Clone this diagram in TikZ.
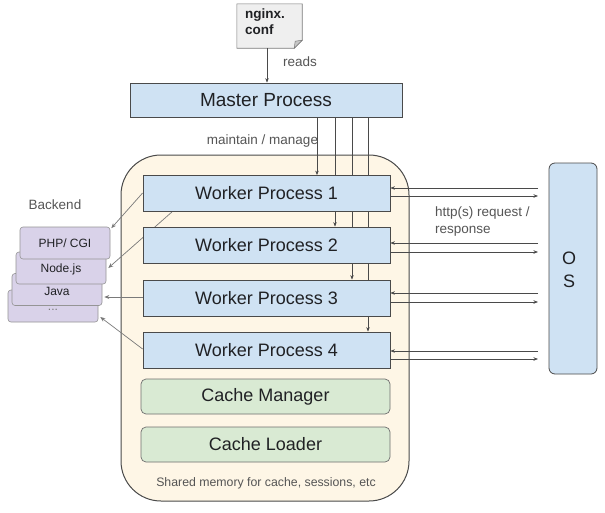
\documentclass[tikz,border=0pt]{standalone}
\usepackage{fontspec}
\setmainfont{Liberation Sans}
\usetikzlibrary{arrows.meta,calc}
\pgfdeclarelayer{bgfill}
\pgfdeclarelayer{back}
\pgfdeclarelayer{mid}
\pgfsetlayers{bgfill,back,mid,main}
\definecolor{wblue}{HTML}{CFE2F3}
\definecolor{cgreen}{HTML}{D9EAD3}
\definecolor{cream}{HTML}{FEF6E6}
\definecolor{lav}{HTML}{D9D2E9}
\definecolor{edge}{HTML}{4A4A4A}
\definecolor{lgray}{HTML}{7A7A7A}
\definecolor{txt}{HTML}{202124}
\definecolor{ltxt}{HTML}{555555}
\definecolor{notefill}{HTML}{EFEFEF}
\tikzset{
  proc/.style={draw=edge, fill=wblue, line width=0.8pt, minimum width=247pt, minimum height=36pt, inner sep=0pt, font=\fontsize{18}{20}\selectfont, text=txt},
  cachebox/.style={draw=edge!80, fill=cgreen, line width=0.7pt, rounded corners=5pt, minimum width=249pt, minimum height=35pt, inner sep=0pt, font=\fontsize{18}{20}\selectfont, text=txt},
  card/.style={draw=lgray!80, fill=lav, line width=0.6pt, rounded corners=3pt, minimum width=90pt, minimum height=32pt, inner sep=0pt},
  cardtext/.style={font=\fontsize{12}{14}\selectfont, text=txt, inner sep=0pt},
  lbl/.style={text=ltxt, font=\fontsize{13.5}{17}\selectfont, inner sep=0pt},
  ctl/.style={draw=edge, line width=0.6pt, -{Stealth[length=4.5pt,width=3.5pt]}},
  bk/.style={draw=lgray, line width=0.7pt, -{Stealth[length=5pt,width=4pt]}},
}
\begin{document}
\begin{tikzpicture}[x=1pt,y=-1pt]
\begin{pgfonlayer}{bgfill}
\fill[white] (0,0) rectangle (605,512);
\end{pgfonlayer}
\useasboundingbox (0,0) rectangle (605,512);

% container
\begin{pgfonlayer}{back}
\node[draw=edge, fill=cream, line width=1pt, rounded corners=40pt, minimum width=288pt, minimum height=346pt, inner sep=0pt] (shm) at (265,328) {};
\end{pgfonlayer}

% note
\node[minimum width=65pt, minimum height=44pt, inner sep=0pt] (note) at (269.5,26) {};
\fill[notefill, draw=lgray, line width=0.6pt] (note.north west) -- (note.north east) -- ($(note.south east)+(0,-8)$) -- ($(note.south east)+(-8,0)$) -- (note.south west) -- cycle;
\fill[gray!45, draw=lgray, line width=0.5pt] ($(note.south east)+(0,-8)$) -- ($(note.south east)+(-7,-7)$) -- ($(note.south east)+(-8,0)$) -- cycle;
\node[anchor=north west, align=left, font=\bfseries\fontsize{13.5}{16}\selectfont, text=txt, inner sep=0pt] (notet) at (245,8.5) {nginx.\\conf};

% master
\node[proc, minimum width=272pt, minimum height=34pt, font=\fontsize{19}{21}\selectfont] (master) at (266,100) {Master Process};

% workers
\node[proc] (w1) at (266.5,193.5) {Worker Process 1};
\node[proc] (w2) at (266.5,245) {Worker Process 2};
\node[proc] (w3) at (266.5,298) {Worker Process 3};
\node[proc] (w4) at (266.5,350) {Worker Process 4};

\node[cachebox] (cm) at (265.5,396.5) {Cache Manager};
\node[cachebox] (cl) at (265.5,444.5) {Cache Loader};
\node[text=ltxt, font=\fontsize{12.3}{14}\selectfont, inner sep=0pt] (shmt) at (266,483) {Shared memory for cache, sessions, etc};

% OS
\node[draw=edge, fill=wblue, line width=0.8pt, rounded corners=6pt, minimum width=48pt, minimum height=211pt, inner sep=0pt] (os) at (573,268.5) {};
\node[align=center, font=\fontsize{18}{23}\selectfont, text=txt, inner sep=0pt] (ost) at (569,269.5) {O\\S};

% backend cards
\node[card] (dots) at (53,306) {};
\node[card] (java) at (57,289.5) {};
\node[card] (node) at (61,268) {};
\node[card] (php) at (65,243) {};
\node[cardtext] (phpt) at (65,243) {PHP/ CGI};
\node[cardtext] (nodet) at (61,269) {Node.js};
\node[cardtext] (javat) at (57,291) {Java};
\node[cardtext, text=lgray] (dotst) at (53,310) {...};
\node[lbl] (backend) at (55,205) {Backend};

% labels
\node[lbl] (reads) at (300,62) {reads};
\node[lbl] (mm) at (262.5,141) {maintain / manage};
\node[lbl, anchor=west, align=left] (http) at (435,221.5) {http(s) request /\\response};

% connectors
\draw[ctl] (note.south -| 267,0) -- (master.north -| 267,0);
\begin{pgfonlayer}{mid}
\draw[ctl] (master.south -| 317,0) -- (w1.north -| 317,0);
\draw[ctl] (master.south -| 335,0) -- (w2.north -| 335,0);
\draw[ctl] (master.south -| 352,0) -- (w3.north -| 352,0);
\draw[ctl] (master.south -| 368,0) -- (w4.north -| 368,0);

\foreach \w/\ya/\yb in {w1/188/196, w2/243/252, w3/293/302, w4/351/359}{
  \coordinate (a\w) at (538,\ya);
  \coordinate (b\w) at (538,\yb);
  \draw[ctl] (a\w) -- (\w.east |- a\w);
  \draw[ctl] (\w.east |- b\w) -- (b\w);
}

\draw[bk] (w1.west |- 0,193) -- ($(php.north east)+(1,1.5)$);
\draw[bk] (w1.south -| 172,0) -- ($(node.east)+(2,0)$);
\draw[bk] (w3.west |- 0,297) -- ($(java.east |- 0,297)+(2,0)$);
\draw[bk] (w4.west |- 0,349) -- ($(dots.east |- 0,317)+(2,0)$);
\end{pgfonlayer}
\end{tikzpicture}
\end{document}
